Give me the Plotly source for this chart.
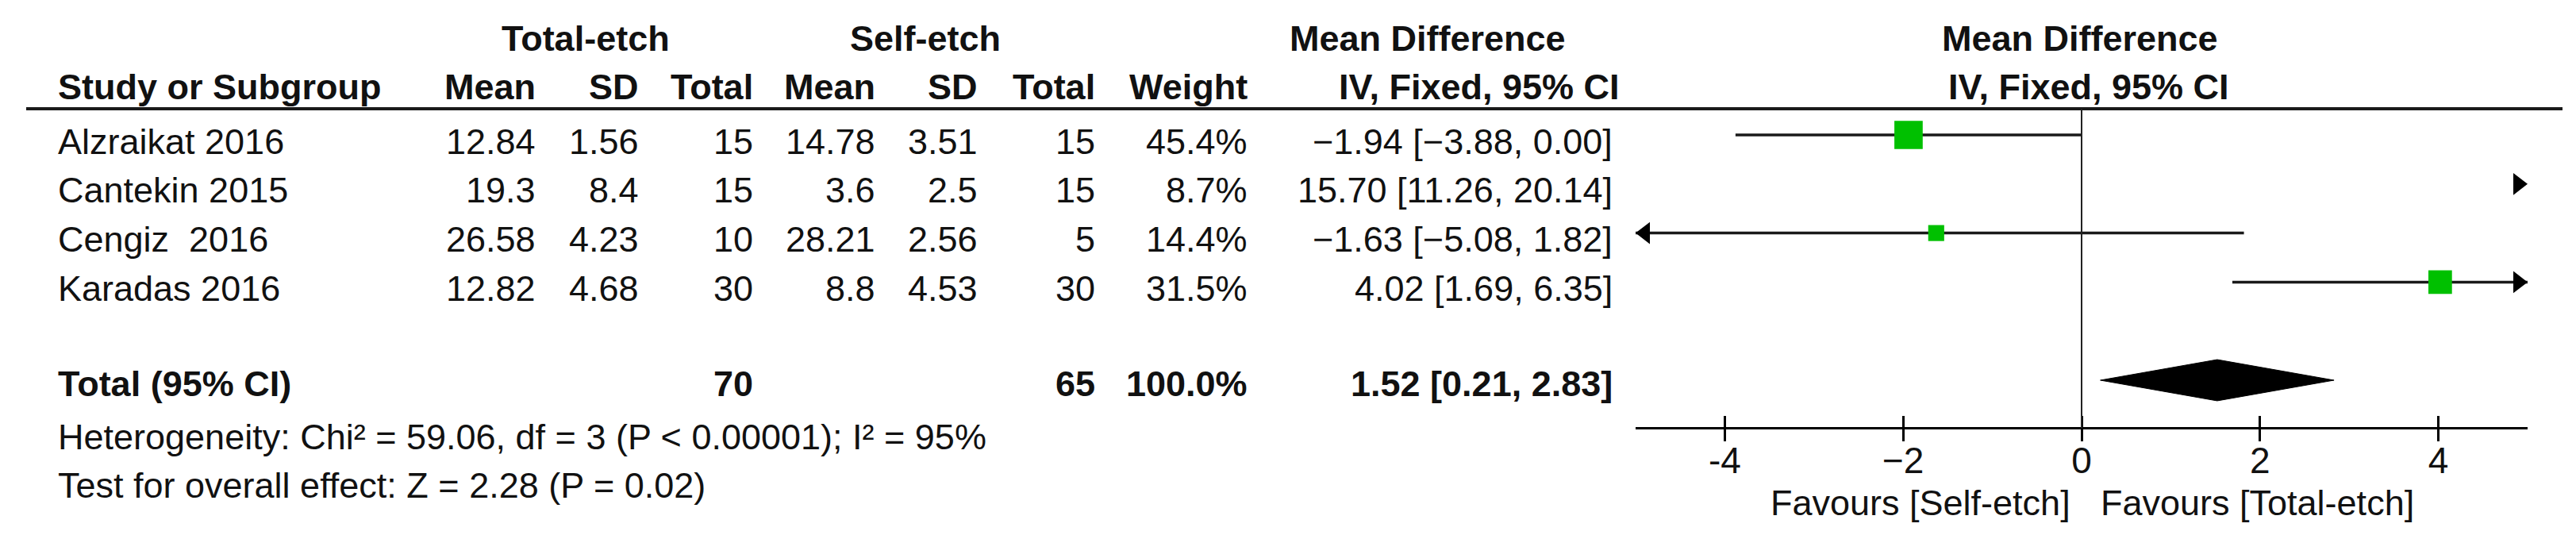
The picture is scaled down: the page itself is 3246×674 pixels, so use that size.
import math
import plotly.graph_objects as go

# ---------------- data ----------------
studies = ["Alzraikat 2016", "Cantekin 2015", "Cengiz\u00a0 2016", "Karadas 2016"]
te_mean = ["12.84", "19.3", "26.58", "12.82"]
te_sd = ["1.56", "8.4", "4.23", "4.68"]
te_n = [15, 15, 10, 30]
se_mean = ["14.78", "3.6", "28.21", "8.8"]
se_sd = ["3.51", "2.5", "2.56", "4.53"]
se_n = [15, 15, 5, 30]
weights = [45.4, 8.7, 14.4, 31.5]
md = [-1.94, 15.70, -1.63, 4.02]
ci_lo = [-3.88, 11.26, -5.08, 1.69]
ci_hi = [0.00, 20.14, 1.82, 6.35]

total_te_n = 70
total_se_n = 65
total_weight = 100.0
total_md = 1.52
total_lo = 0.21
total_hi = 2.83

heterogeneity = "Heterogeneity: Chi² = 59.06, df = 3 (P < 0.00001); I² = 95%"
overall = "Test for overall effect: Z = 2.28 (P = 0.02)"

tick_vals = [-4, -2, 0, 2, 4]
tick_text = ["-4", "\u22122", "0", "2", "4"]
x_range = [-5, 5]

# ---------------- layout constants ----------------
W, H = 3246, 674
FONT = "Liberation Sans, Arial, Helvetica, sans-serif"
FS = 45
TXT = "#111111"
GREEN = "#00C000"

row_pos = [0, 1, 2, 3]
total_pos = 5
ROW0_PX, ROW_STEP = 162.0, 61.8
y_top = (0 - ROW0_PX) / ROW_STEP
y_bot = (H - ROW0_PX) / ROW_STEP

ARROW = 24  # arrow-head marker size (px)


def px(x):
    return x / W


def py(y):
    return 1 - y / H


def fmt(v):
    return f"{v:.2f}".replace("-", "\u2212")


fig = go.Figure()

# CI lines and clipping arrows
for i, r in enumerate(row_pos):
    lo, hi = ci_lo[i], ci_hi[i]
    a, b = max(lo, x_range[0]), min(hi, x_range[1])
    if a < b:
        fig.add_trace(go.Scatter(x=[a, b], y=[r, r], mode="lines",
                                 line=dict(color="#1a1a1a", width=3.5),
                                 hoverinfo="skip"))
    if hi > x_range[1]:
        fig.add_trace(go.Scatter(x=[x_range[1]], y=[r], mode="markers",
                                 marker=dict(symbol="triangle-up", angle=90,
                                             standoff=ARROW / 2, size=ARROW,
                                             color="black", opacity=1,
                                             line=dict(width=0)),
                                 cliponaxis=False, hoverinfo="skip"))
    if lo < x_range[0]:
        fig.add_trace(go.Scatter(x=[x_range[0]], y=[r], mode="markers",
                                 marker=dict(symbol="triangle-up", angle=-90,
                                             standoff=ARROW / 2, size=ARROW,
                                             color="black", opacity=1,
                                             line=dict(width=0)),
                                 cliponaxis=False, hoverinfo="skip"))

# squares (size ~ sqrt(weight))
sx, sy, ss = [], [], []
for i, r in enumerate(row_pos):
    if x_range[0] <= md[i] <= x_range[1]:
        sx.append(md[i]); sy.append(r); ss.append(5.3 * math.sqrt(weights[i]))
fig.add_trace(go.Scatter(x=sx, y=sy, mode="markers",
                         marker=dict(symbol="square", size=ss, color=GREEN, opacity=1,
                                     line=dict(width=0)),
                         cliponaxis=False, hoverinfo="skip"))

# diamond
dh = 0.42
fig.add_trace(go.Scatter(x=[total_lo, total_md, total_hi, total_md, total_lo],
                         y=[total_pos, total_pos - dh, total_pos, total_pos + dh, total_pos],
                         mode="lines", fill="toself", fillcolor="black",
                         line=dict(color="black", width=1), hoverinfo="skip"))

# empty trace on the overlaying axis (inside half of the crossing ticks)
fig.add_trace(go.Scatter(x=[], y=[], xaxis="x2", yaxis="y"))

annotations = []


def ann(text, xp, y, anchor="right", yref="paper", yshift=0, bold=False, size=FS):
    if bold:
        text = f"<b>{text}</b>"
    annotations.append(dict(text=text, x=px(xp), xref="paper", y=y, yref=yref,
                            xanchor=anchor, yanchor="middle", showarrow=False,
                            yshift=yshift,
                            font=dict(family=FONT, size=size, color=TXT)))


# headers
H1, H2 = py(40), py(101)
ann("Total-etch", 730, H1, "center", bold=True)
ann("Self-etch", 1158, H1, "center", bold=True)
ann("Mean Difference", 1791, H1, "center", bold=True)
ann("Mean Difference", 2613, H1, "center", bold=True)
ann("Study or Subgroup", 63, H2, "left", bold=True)
col_right = [669, 799, 943, 1097, 1226, 1374, 1566]
for lbl, xr in zip(["Mean", "SD", "Total", "Mean", "SD", "Total", "Weight"], col_right):
    ann(lbl, xr, H2, "right", bold=True)
ann("IV, Fixed, 95% CI", 2035, H2, "right", bold=True)
ann("IV, Fixed, 95% CI", 2624, H2, "center", bold=True)

# rows
CI_RIGHT = 2026
for i, r in enumerate(row_pos):
    ann(studies[i], 63, r, "left", yref="y", yshift=-8)
    vals = [te_mean[i], te_sd[i], str(te_n[i]), se_mean[i], se_sd[i], str(se_n[i]),
            f"{weights[i]:.1f}%"]
    for v, xr in zip(vals, col_right):
        ann(v, xr, r, "right", yref="y", yshift=-8)
    ann(f"{fmt(md[i])} [{fmt(ci_lo[i])}, {fmt(ci_hi[i])}]", CI_RIGHT, r, "right",
        yref="y", yshift=-8)

# total row
ann("Total (95% CI)", 63, total_pos, "left", yref="y", yshift=-4, bold=True)
ann(str(total_te_n), col_right[2], total_pos, "right", yref="y", yshift=-4, bold=True)
ann(str(total_se_n), col_right[5], total_pos, "right", yref="y", yshift=-4, bold=True)
ann(f"{total_weight:.1f}%", col_right[6], total_pos, "right", yref="y", yshift=-4, bold=True)
ann(f"{fmt(total_md)} [{fmt(total_lo)}, {fmt(total_hi)}]", CI_RIGHT, total_pos, "right",
    yref="y", yshift=-4, bold=True)

ann(heterogeneity, 63, py(542), "left")
ann(overall, 63, py(603), "left")
ann("Favours [Self-etch]", 2603, py(625), "right")
ann("Favours [Total-etch]", 2637, py(625), "left")

AXIS_Y = py(531)
dom = [px(2053), px(3177)]

fig.update_layout(
    width=W, height=H,
    margin=dict(l=0, r=0, t=0, b=0),
    paper_bgcolor="white", plot_bgcolor="rgba(0,0,0,0)",
    showlegend=False,
    annotations=annotations,
    xaxis=dict(domain=dom, range=x_range, anchor="free", position=AXIS_Y,
               showgrid=False, zeroline=False, showline=True, linecolor="black",
               linewidth=3, ticks="outside", ticklen=15, tickwidth=3, tickcolor="black",
               tickvals=tick_vals, ticktext=tick_text, ticklabelstandoff=-15,
               tickfont=dict(family=FONT, size=46, color=TXT)),
    xaxis2=dict(domain=dom, range=x_range, anchor="free", position=AXIS_Y,
                overlaying="x", showgrid=False, zeroline=False, showline=False,
                ticks="inside", ticklen=15, tickwidth=3, tickcolor="black",
                tickvals=tick_vals, showticklabels=False),
    yaxis=dict(domain=[0, 1], range=[y_bot, y_top], visible=False),
    shapes=[
        dict(type="line", xref="paper", yref="paper", x0=px(25), x1=px(3221),
             y0=py(129), y1=py(129), line=dict(color="#1a1a1a", width=4)),
        dict(type="line", xref="x", yref="paper", x0=0, x1=0,
             y0=AXIS_Y, y1=py(129), line=dict(color="#222222", width=2)),
    ],
)

fig.write_html("out.html")
